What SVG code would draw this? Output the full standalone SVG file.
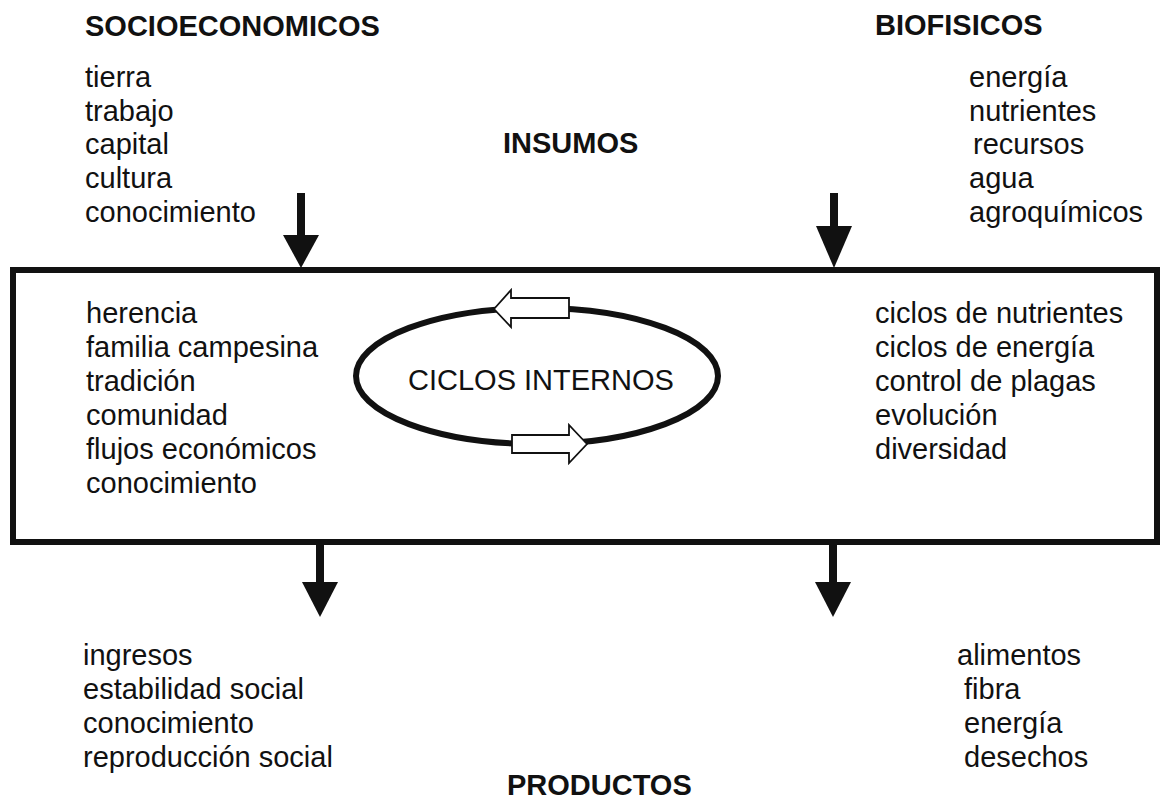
<svg xmlns="http://www.w3.org/2000/svg" width="1161" height="801" viewBox="0 0 1161 801">
<defs>
<style>
text{font-family:"Liberation Sans",Arial,sans-serif;font-size:29px;fill:#111}
.h{font-weight:bold}
.line{fill:none;stroke:#111;stroke-width:6}
.shaft{stroke:#111;stroke-width:8}
.head{fill:#111}
.hollow{fill:#fff;stroke:#111;stroke-width:1.8;stroke-linejoin:miter}
</style>
</defs>
<rect width="1161" height="801" fill="#fff"/>
<g id="headers">
<text class="h" x="85" y="36">SOCIOECONOMICOS</text>
<text class="h" x="875" y="35">BIOFISICOS</text>
<text class="h" x="503" y="153">INSUMOS</text>
<text class="h" x="507" y="795">PRODUCTOS</text>
</g>
<g id="inputs-socio">
<text x="85" y="87">tierra</text>
<text x="85" y="120.5">trabajo</text>
<text x="85" y="154">capital</text>
<text x="85" y="188">cultura</text>
<text x="85" y="222">conocimiento</text>
</g>
<g id="inputs-bio">
<text x="969" y="87">energía</text>
<text x="969" y="120.5">nutrientes</text>
<text x="973" y="154">recursos</text>
<text x="969" y="188">agua</text>
<text x="969" y="222">agroquímicos</text>
</g>
<g id="system">
<rect class="line" x="13" y="270" width="1144" height="272"/>
<g id="system-socio">
<text x="86" y="323">herencia</text>
<text x="86" y="357">familia campesina</text>
<text x="86" y="391">tradición</text>
<text x="86" y="425">comunidad</text>
<text x="86" y="459">flujos económicos</text>
<text x="86" y="493">conocimiento</text>
</g>
<g id="system-bio">
<text x="875" y="323">ciclos de nutrientes</text>
<text x="875" y="357">ciclos de energía</text>
<text x="875" y="391">control de plagas</text>
<text x="875" y="425">evolución</text>
<text x="875" y="459">diversidad</text>
</g>
</g>
<g id="ciclos">
<ellipse class="line" cx="537" cy="376" rx="181" ry="68" stroke-width="6.5"/>
<path class="hollow" d="M494,309 L511,290 L511,298 L569,298 L569,318 L511,318 L511,327 Z"/>
<path class="hollow" d="M587,444 L569,425 L569,435 L512,435 L512,453 L569,453 L569,463 Z"/>
<text x="408" y="390">CICLOS INTERNOS</text>
</g>
<g id="outputs-socio">
<text x="83" y="665">ingresos</text>
<text x="83" y="699">estabilidad social</text>
<text x="83" y="733">conocimiento</text>
<text x="83" y="767">reproducción social</text>
</g>
<g id="outputs-bio">
<text x="957" y="665">alimentos</text>
<text x="964" y="699">fibra</text>
<text x="964" y="733">energía</text>
<text x="964" y="767">desechos</text>
</g>
<g id="connectors">
<line class="shaft" x1="301" y1="193" x2="301" y2="236"/>
<polygon class="head" points="283,235 319,235 301,268"/>
<line class="shaft" x1="834" y1="193" x2="834" y2="228"/>
<polygon class="head" points="816,226 852,226 834,268"/>
<line class="shaft" x1="320" y1="542" x2="320" y2="583"/>
<polygon class="head" points="302,582 338,582 320,617"/>
<line class="shaft" x1="833" y1="542" x2="833" y2="583"/>
<polygon class="head" points="815,582 851,582 833,617"/>
</g>
</svg>
